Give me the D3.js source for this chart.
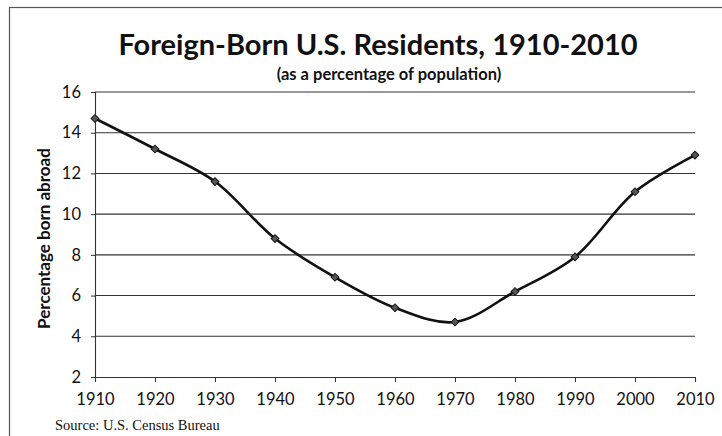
<!DOCTYPE html>
<html>
<head>
<meta charset="utf-8">
<script src="https://cdn.jsdelivr.net/npm/d3@7"></script>
<style>
  body { margin: 0; background: #fff; }
  svg { display: block; }
</style>
</head>
<body>
<svg id="chart" width="722" height="436"></svg>
<script>
// ---- data ----
const years = [1910, 1920, 1930, 1940, 1950, 1960, 1970, 1980, 1990, 2000, 2010];
const pctForeign = [14.7, 13.2, 11.6, 8.8, 6.9, 5.4, 4.7, 6.2, 7.9, 11.1, 12.9];
const yTicks = [2, 4, 6, 8, 10, 12, 14, 16];

const svg = d3.select("#chart");
const W = 722, H = 436;
const m = { left: 95, right: 27, top: 92, bottom: 59 };
const FONT = "Lato, 'Open Sans', sans-serif";

// outer frame
svg.append("rect")
  .attr("x", 9.5).attr("y", 7.5).attr("width", W + 10).attr("height", H + 10)
  .attr("fill", "none").attr("stroke", "#555").attr("stroke-width", 1.2);

const x = d3.scaleLinear().domain([1910, 2010]).range([m.left, W - m.right]);
const y = d3.scaleLinear().domain([2, 16]).range([H - m.bottom, m.top]);

// gridlines
svg.append("g")
  .selectAll("line")
  .data(yTicks.slice(1))
  .join("line")
  .attr("x1", x(1910)).attr("x2", x(2010))
  .attr("y1", d => y(d)).attr("y2", d => y(d))
  .attr("stroke", "#333").attr("stroke-width", 1.1);

// y axis
const yAxis = svg.append("g")
  .attr("transform", `translate(${x(1910)},0)`)
  .call(d3.axisLeft(y).tickValues(yTicks).tickSize(4).tickPadding(10));
yAxis.select(".domain").attr("stroke", "#333").attr("stroke-width", 1.1);
yAxis.selectAll(".tick line").attr("stroke", "#333");
yAxis.selectAll("text")
  .attr("font-family", FONT)
  .attr("font-size", 16.5).attr("fill", "#111");

// x axis
const xAxis = svg.append("g")
  .attr("transform", `translate(0,${y(2)})`)
  .call(d3.axisBottom(x).tickValues(years).tickFormat(d3.format("d")).tickSize(5).tickPadding(11));
xAxis.select(".domain").attr("stroke", "#333").attr("stroke-width", 1.1);
xAxis.selectAll(".tick line").attr("stroke", "#333");
xAxis.selectAll("text")
  .attr("font-family", FONT)
  .attr("font-size", 16.5).attr("fill", "#111");

// line
const pts = years.map((yr, i) => [yr, pctForeign[i]]);
svg.append("path")
  .datum(pts)
  .attr("fill", "none")
  .attr("stroke", "#111")
  .attr("stroke-width", 2.6)
  .attr("d", d3.line().x(d => x(d[0])).y(d => y(d[1])).curve(d3.curveCatmullRom.alpha(0.5)));

// diamond markers (square rotated)
svg.append("g")
  .selectAll("path")
  .data(pts)
  .join("path")
  .attr("transform", d => `translate(${x(d[0])},${y(d[1])}) rotate(45)`)
  .attr("d", d3.symbol(d3.symbolSquare, 30))
  .attr("fill", "#555").attr("stroke", "#111").attr("stroke-width", 1);

// titles
svg.append("text")
  .attr("x", 378).attr("y", 55)
  .attr("text-anchor", "middle")
  .attr("font-family", FONT)
  .attr("font-weight", "bold").attr("font-size", 29).attr("fill", "#111")
  .text("Foreign-Born U.S. Residents, 1910-2010");

svg.append("text")
  .attr("x", 389).attr("y", 80)
  .attr("text-anchor", "middle")
  .attr("font-family", FONT)
  .attr("font-weight", "bold").attr("font-size", 16.5).attr("fill", "#111")
  .text("(as a percentage of population)");

svg.append("text")
  .attr("transform", `translate(50,${(y(2) + y(16)) / 2 + 4}) rotate(-90)`)
  .attr("text-anchor", "middle")
  .attr("font-family", FONT)
  .attr("font-weight", "bold").attr("font-size", 17).attr("fill", "#111")
  .text("Percentage born abroad");

svg.append("text")
  .attr("x", 55).attr("y", 430)
  .attr("font-family", "'Liberation Serif', 'DejaVu Serif', serif")
  .attr("font-size", 14.5).attr("fill", "#111")
  .text("Source: U.S. Census Bureau");
</script>
</body>
</html>
